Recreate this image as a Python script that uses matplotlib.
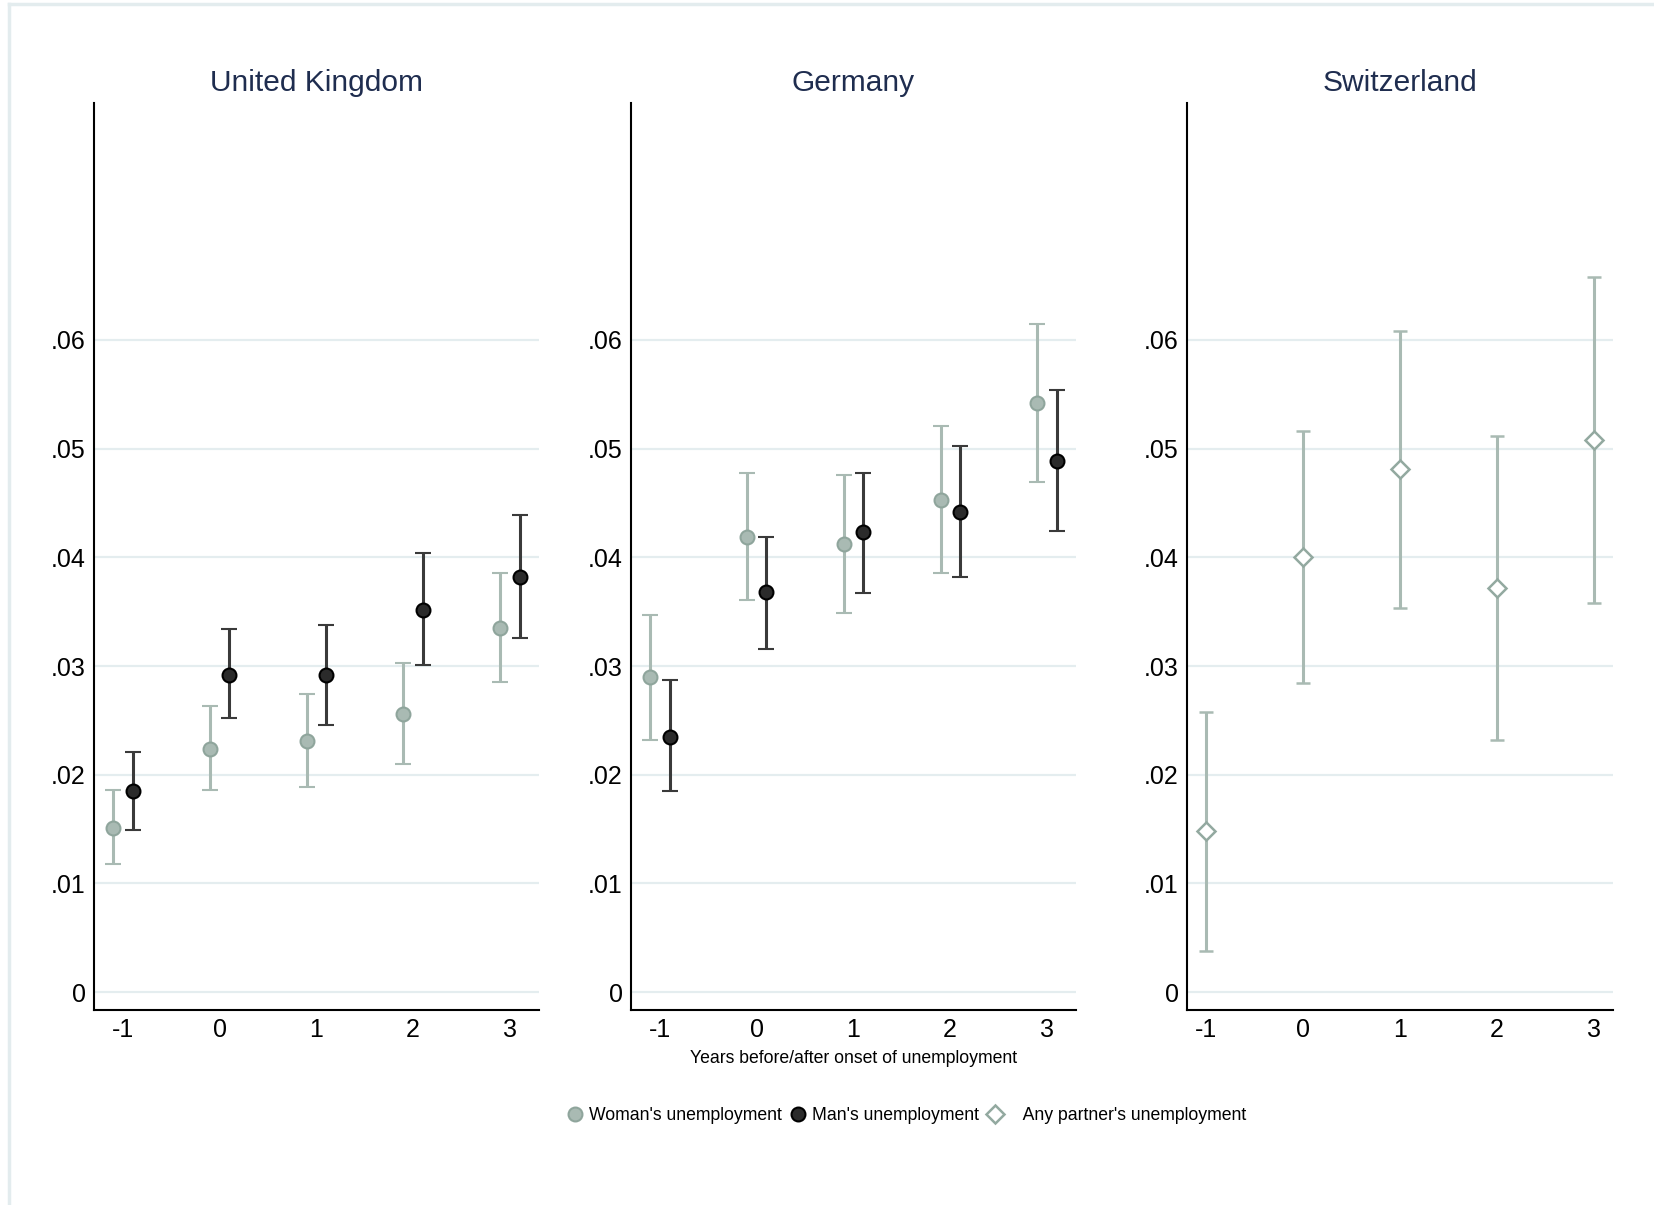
import matplotlib.pyplot as plt
from matplotlib.lines import Line2D

plt.rcParams['font.family'] = ['Liberation Sans', 'DejaVu Sans']

years = [-1, 0, 1, 2, 3]

# United Kingdom
uk_women = [0.0151, 0.0224, 0.0231, 0.0256, 0.0335]
uk_women_lo = [0.0118, 0.0186, 0.0189, 0.0210, 0.0285]
uk_women_hi = [0.0186, 0.0263, 0.0274, 0.0303, 0.0386]
uk_men = [0.0185, 0.0292, 0.0292, 0.0352, 0.0382]
uk_men_lo = [0.0149, 0.0252, 0.0246, 0.0301, 0.0326]
uk_men_hi = [0.0221, 0.0334, 0.0338, 0.0404, 0.0439]

# Germany
de_women = [0.0290, 0.0419, 0.0412, 0.0453, 0.0542]
de_women_lo = [0.0232, 0.0361, 0.0349, 0.0386, 0.0469]
de_women_hi = [0.0347, 0.0478, 0.0476, 0.0521, 0.0615]
de_men = [0.0235, 0.0368, 0.0423, 0.0442, 0.0489]
de_men_lo = [0.0185, 0.0316, 0.0367, 0.0382, 0.0424]
de_men_hi = [0.0287, 0.0419, 0.0478, 0.0502, 0.0554]

# Switzerland
ch_any = [0.0148, 0.0400, 0.0481, 0.0372, 0.0508]
ch_any_lo = [0.0038, 0.0284, 0.0353, 0.0232, 0.0358]
ch_any_hi = [0.0258, 0.0516, 0.0608, 0.0512, 0.0658]

ytick_vals = [0, 0.01, 0.02, 0.03, 0.04, 0.05, 0.06]
ytick_labels = ['0', '.01', '.02', '.03', '.04', '.05', '.06']

light = '#a9bab3'
light_edge = '#8fa59c'
dark = '#2b2b2b'
dark_bar = '#3a3a3a'
grid_col = '#e4edef'
title_col = '#1f2d4f'


def errs(v, lo, hi):
    return [[a - b for a, b in zip(v, lo)], [c - a for a, c in zip(v, hi)]]


def setup(ax, title, xlim):
    ax.set_xlim(*xlim)
    ax.set_ylim(-0.00165, 0.0818)
    ax.set_yticks(ytick_vals)
    ax.set_yticklabels(ytick_labels)
    ax.set_xticks(years)
    ax.set_xticklabels([str(y) for y in years])
    ax.tick_params(length=0, labelsize=18, pad=6)
    ax.tick_params(axis='x', pad=5.5)
    for s in ['top', 'right']:
        ax.spines[s].set_visible(False)
    for s in ['left', 'bottom']:
        ax.spines[s].set_linewidth(1.5)
        ax.spines[s].set_color('black')
    for v in ytick_vals:
        ax.axhline(v, color=grid_col, lw=1.6, zorder=0)
    ax.set_title(title, fontsize=21.5, color=title_col, pad=9)


def pair(ax, w, wlo, whi, m, mlo, mhi):
    xw = [x - 0.1 for x in years]
    xm = [x + 0.1 for x in years]
    ax.errorbar(xw, w, yerr=errs(w, wlo, whi), fmt='o', color=light, ecolor=light,
                elinewidth=2.2, capsize=5.5, capthick=2.2, markersize=10,
                markerfacecolor=light, markeredgecolor=light_edge, markeredgewidth=1.5, zorder=3)
    ax.errorbar(xm, m, yerr=errs(m, mlo, mhi), fmt='o', color=dark_bar, ecolor=dark_bar,
                elinewidth=2.2, capsize=5.5, capthick=2.2, markersize=10,
                markerfacecolor=dark, markeredgecolor='black', markeredgewidth=1.5, zorder=3)


fig = plt.figure(figsize=(16.54, 12.05), dpi=100)

ax1 = fig.add_axes([0.0568, 0.1618, 0.269, 0.7527])
setup(ax1, 'United Kingdom', (-1.3, 3.3))
pair(ax1, uk_women, uk_women_lo, uk_women_hi, uk_men, uk_men_lo, uk_men_hi)

ax2 = fig.add_axes([0.3815, 0.1618, 0.269, 0.7527])
setup(ax2, 'Germany', (-1.3, 3.3))
pair(ax2, de_women, de_women_lo, de_women_hi, de_men, de_men_lo, de_men_hi)
ax2.set_xlabel('Years before/after onset of unemployment', fontsize=12.7, labelpad=6)

ax3 = fig.add_axes([0.7177, 0.1618, 0.2576, 0.7527])
setup(ax3, 'Switzerland', (-1.2, 3.2))
ax3.errorbar(years, ch_any, yerr=errs(ch_any, ch_any_lo, ch_any_hi), fmt='D', color=light,
             ecolor=light, elinewidth=2.2, capsize=5, capthick=2.2, markersize=9,
             markerfacecolor='white', markeredgecolor='#93a9a0', markeredgewidth=1.8, zorder=3)

handles = [
    Line2D([], [], ls='none', marker='o', markersize=10, markerfacecolor=light,
           markeredgecolor=light_edge, markeredgewidth=1.5),
    Line2D([], [], ls='none', marker='o', markersize=10, markerfacecolor=dark,
           markeredgecolor='black', markeredgewidth=1.5),
    Line2D([], [], ls='none', marker='D', markersize=9, markerfacecolor='white',
           markeredgecolor='#93a9a0', markeredgewidth=1.8),
]
labels = ["Woman's unemployment", "Man's unemployment", "   Any partner's unemployment"]
fig.legend(handles, labels, loc='center', bbox_to_anchor=(0.548, 0.0745), ncol=3,
           frameon=False, fontsize=12.7, handlelength=1.0, handletextpad=0.3,
           columnspacing=0.4)

# thin frame along the top and left edges
fig.add_artist(Line2D([0.0055, 0.0055], [0, 0.997], transform=fig.transFigure,
                      color='#e3ecee', lw=2.5))
fig.add_artist(Line2D([0.0055, 1], [0.997, 0.997], transform=fig.transFigure,
                      color='#e3ecee', lw=2.5))

fig.savefig('out.png', dpi=100)
